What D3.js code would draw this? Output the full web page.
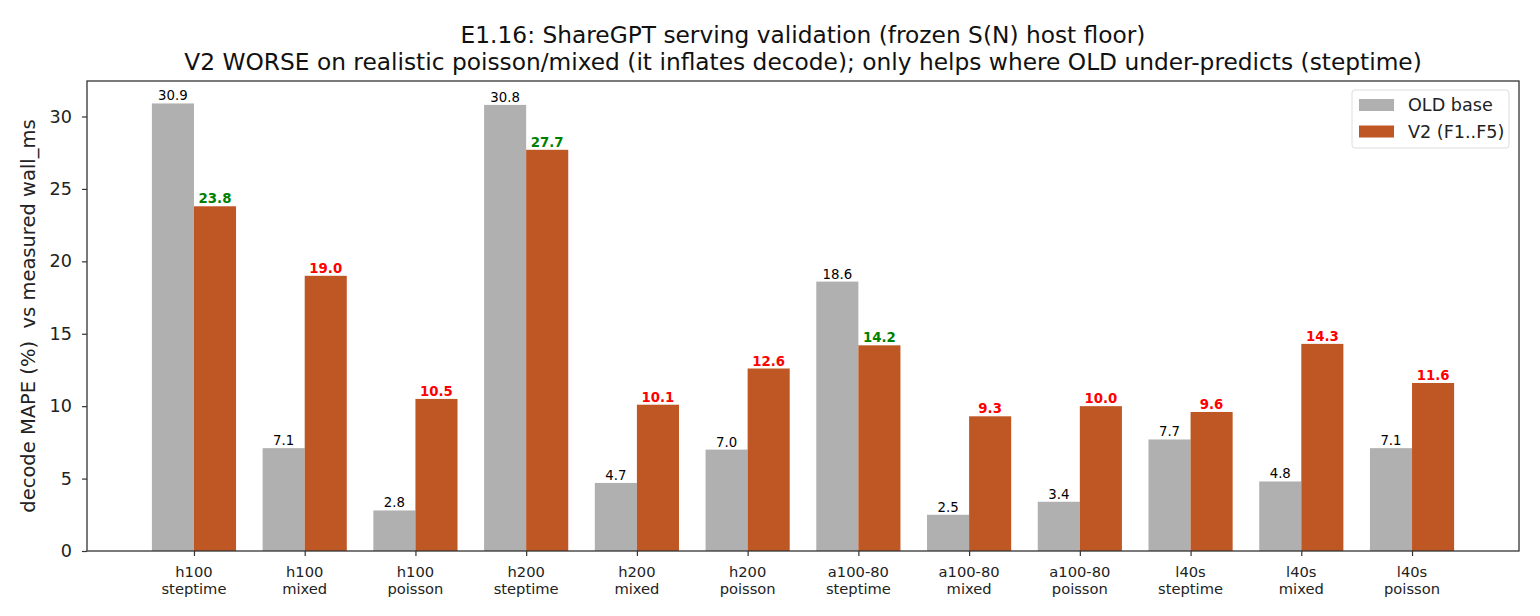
<!DOCTYPE html>
<html><head><meta charset="utf-8">
<script src="https://cdn.jsdelivr.net/npm/d3@7"></script>
<style>body{margin:0;background:#fff;}svg{display:block;font-family:"DejaVu Sans",sans-serif;}</style>
</head><body><svg id="c" width="1540" height="616"></svg>
<script>
const hosts = ["h100","h100","h100","h200","h200","h200","a100-80","a100-80","a100-80","l40s","l40s","l40s"];
const modes = ["steptime","mixed","poisson","steptime","mixed","poisson","steptime","mixed","poisson","steptime","mixed","poisson"];
const oldBase = [30.9,7.1,2.8,30.8,4.7,7.0,18.6,2.5,3.4,7.7,4.8,7.1];
const v2 = [23.8,19.0,10.5,27.7,10.1,12.6,14.2,9.3,10.0,9.6,14.3,11.6];
const yTicks = [0,5,10,15,20,25,30];
const seriesNames = ["OLD base","V2 (F1..F5)"];

const svg = d3.select("#c");
const L=87,R=1519,T=81,B=551;
const bw = 0.38;
const x = d3.scaleLinear().domain([-0.966, hosts.length-1+0.966]).range([L,R]);
const y = d3.scaleLinear().domain([0, 32.45]).range([B,T]);
const gray="#b0b0b0", orange="#bf5724";

const idx = d3.range(hosts.length);
svg.append("g").selectAll("rect").data(idx).join("rect")
  .attr("x",i=>x(i-bw)).attr("width",i=>x(i)-x(i-bw)).attr("y",i=>y(oldBase[i])).attr("height",i=>y(0)-y(oldBase[i])).attr("fill",gray);
svg.append("g").selectAll("rect").data(idx).join("rect")
  .attr("x",i=>x(i)).attr("width",i=>x(i+bw)-x(i)).attr("y",i=>y(v2[i])).attr("height",i=>y(0)-y(v2[i])).attr("fill",orange);

svg.append("g").selectAll("text").data(idx).join("text")
  .attr("x",i=>x(i-bw/2)).attr("y",i=>y(oldBase[i])-3).attr("text-anchor","middle").attr("font-size",13.3).attr("fill","#000")
  .text(i=>oldBase[i].toFixed(1));
svg.append("g").selectAll("text").data(idx).join("text")
  .attr("x",i=>x(i+bw/2)).attr("y",i=>y(v2[i])-3).attr("text-anchor","middle").attr("font-size",13.3).attr("font-weight","bold")
  .attr("fill",i=>v2[i]<oldBase[i]?"#008000":"#ff0000")
  .text(i=>v2[i].toFixed(1));

// axes
const ya = svg.append("g").attr("transform",`translate(${L},0)`).call(d3.axisLeft(y).tickValues(yTicks).tickSize(5).tickPadding(10).tickFormat(d3.format("d")));
ya.select(".domain").remove();
ya.selectAll("line").attr("stroke","#333").attr("stroke-width",1.2);
ya.selectAll("text").attr("font-size",17.6).attr("fill","#222").attr("font-family","DejaVu Sans");

const xa = svg.append("g").attr("transform",`translate(0,${B})`).call(d3.axisBottom(x).tickValues(idx).tickSize(5).tickFormat(""));
xa.select(".domain").remove();
xa.selectAll("line").attr("stroke","#333").attr("stroke-width",1.2);
const xt = svg.append("g").selectAll("text").data(idx).join("text")
  .attr("x",i=>x(i)).attr("text-anchor","middle").attr("font-size",14.7).attr("fill","#222");
xt.append("tspan").attr("x",i=>x(i)).attr("y",B+26).text(i=>hosts[i]);
xt.append("tspan").attr("x",i=>x(i)).attr("y",B+43).text(i=>modes[i]);

svg.append("rect").attr("x",L).attr("y",T).attr("width",R-L).attr("height",B-T).attr("fill","none").attr("stroke","#333").attr("stroke-width",1.3);

svg.append("text").attr("transform",`translate(35,${(T+B)/2}) rotate(-90)`).attr("text-anchor","middle").attr("font-size",19.5).attr("fill","#222")
  .text("decode MAPE (%)  vs measured wall_ms").style("white-space","pre");

const title = svg.append("text").attr("text-anchor","middle").attr("font-size",23.3).attr("fill","#111");
title.append("tspan").attr("x",(L+R)/2).attr("y",43).text("E1.16: ShareGPT serving validation (frozen S(N) host floor)");
title.append("tspan").attr("x",(L+R)/2).attr("y",70).text("V2 WORSE on realistic poisson/mixed (it inflates decode); only helps where OLD under-predicts (steptime)");

// legend
const lg = svg.append("g");
lg.append("rect").attr("x",1352).attr("y",90).attr("width",157).attr("height",58).attr("rx",3).attr("fill","#fff").attr("stroke","#ddd");
const lcol=[gray,orange];
seriesNames.forEach((n,k)=>{
  lg.append("rect").attr("x",1359).attr("y",99+k*26.5).attr("width",35).attr("height",12).attr("fill",lcol[k]);
  lg.append("text").attr("x",1408).attr("y",111+k*26.5).attr("font-size",17.6).attr("fill","#222").text(n);
});
</script></body></html>
